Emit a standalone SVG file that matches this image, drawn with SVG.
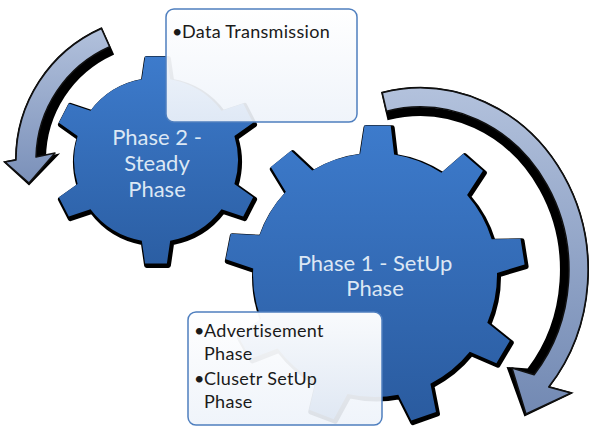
<svg xmlns="http://www.w3.org/2000/svg" width="595" height="432" viewBox="0 0 595 432">
<style>
.gtxt{font-family:Lato,"Open Sans","Liberation Sans",sans-serif;font-size:22px;fill:#dce7f4;text-anchor:middle}
.btxt{font-family:Lato,"Open Sans","Liberation Sans",sans-serif;font-size:18px;letter-spacing:0.3px;fill:#1a1a1a}
.shadow{fill:#000;stroke:#000;stroke-width:5;stroke-linejoin:round}
.box{fill:url(#boxg);stroke:#4f7fbf;stroke-width:1.5}
.arw{stroke:#111;stroke-width:1.5;stroke-linejoin:round}
</style>
<defs>
<linearGradient id="g1" gradientUnits="userSpaceOnUse" x1="0" y1="56" x2="0" y2="264">
<stop offset="0" stop-color="#3d7bcc"/><stop offset="1" stop-color="#2b5ea3"/>
</linearGradient>
<linearGradient id="g2" gradientUnits="userSpaceOnUse" x1="0" y1="125" x2="0" y2="421">
<stop offset="0" stop-color="#3d7bcc"/><stop offset="1" stop-color="#2a5b9f"/>
</linearGradient>
<linearGradient id="ag1" gradientUnits="userSpaceOnUse" x1="0" y1="28" x2="0" y2="184">
<stop offset="0" stop-color="#b2c1dc"/><stop offset="1" stop-color="#7a90b9"/>
</linearGradient>
<linearGradient id="ag2" gradientUnits="userSpaceOnUse" x1="0" y1="90" x2="0" y2="414">
<stop offset="0" stop-color="#b2c1dc"/><stop offset="1" stop-color="#7289b3"/>
</linearGradient>
<linearGradient id="boxg" x1="0" y1="0" x2="0" y2="1">
<stop offset="0" stop-color="#ffffff" stop-opacity="0.97"/><stop offset="1" stop-color="#eef3fa" stop-opacity="0.92"/>
</linearGradient>
</defs>

<g id="connectors">
<g id="arrow-left">
<path fill="#000" stroke="#000" stroke-width="2" d="M101.4,28.5 A144 144 0 0 0 16,160 L5,162 L29,184 L57,155 L45,158 A116 116 0 0 1 112.8,54 Z"/>
<path class="arw" fill="url(#ag1)" d="M101.4,28.5 A144 144 0 0 0 16,160 L5,162 L29,183 L55,153 L36,157 A124 124 0 0 1 109.6,46.7 Z"/>
</g>
<g id="arrow-right">
<path fill="#000" stroke="#000" stroke-width="2" d="M382.2,92.7 A168 182 0 0 1 548.7,387 L571,393 L525,415 L508,368 L528,369.6 A141 155 0 0 0 388.3,119 Z"/>
<path class="arw" fill="url(#ag2)" d="M382.2,92.7 A168 182 0 0 1 548.7,387 L571,393 L526,414 L512,368 L534.1,374.8 A149 163 0 0 0 386.5,111.2 Z"/>
</g>
</g>

<g id="gear-phase2">
<path class="shadow" transform="translate(1.5,2)" d="M141.8,79.3 L145.1,56.6 L166.9,56.6 L170.2,79.3 A82 82 0 0 1 221.5,110.7 L243.2,103.4 L253.1,122.7 L234.4,136.0 A82 82 0 0 1 234.4,184.0 L253.1,197.3 L243.2,216.6 L221.5,209.3 A82 82 0 0 1 170.2,240.7 L166.9,263.4 L145.1,263.4 L141.8,240.7 A82 82 0 0 1 90.5,209.3 L68.8,216.6 L58.9,197.3 L77.6,184.0 A82 82 0 0 1 77.6,136.0 L58.9,122.7 L68.8,103.4 L90.5,110.7 A82 82 0 0 1 141.8,79.3 Z"/>
<path fill="url(#g1)" d="M141.8,79.3 L145.1,56.6 L166.9,56.6 L170.2,79.3 A82 82 0 0 1 221.5,110.7 L243.2,103.4 L253.1,122.7 L234.4,136.0 A82 82 0 0 1 234.4,184.0 L253.1,197.3 L243.2,216.6 L221.5,209.3 A82 82 0 0 1 170.2,240.7 L166.9,263.4 L145.1,263.4 L141.8,240.7 A82 82 0 0 1 90.5,209.3 L68.8,216.6 L58.9,197.3 L77.6,184.0 A82 82 0 0 1 77.6,136.0 L58.9,122.7 L68.8,103.4 L90.5,110.7 A82 82 0 0 1 141.8,79.3 Z"/>
<text class="gtxt" x="157" y="145">Phase 2 -</text>
<text class="gtxt" x="157" y="171">Steady</text>
<text class="gtxt" x="157" y="197">Phase</text>
</g>

<g id="gear-phase1">
<path class="shadow" transform="translate(1.5,2)" d="M360.1,153.9 L364.5,125.4 L390.7,125.8 L394.1,154.5 A122 122 0 0 1 441.4,172.7 L463.2,153.7 L482.9,170.8 L467.1,195.0 A122 122 0 0 1 491.7,239.3 L520.5,238.7 L524.6,264.5 L497.0,272.9 A122 122 0 0 1 487.3,322.7 L509.8,340.8 L496.4,363.2 L469.8,351.8 A122 122 0 0 1 430.4,383.7 L436.0,412.0 L411.3,420.6 L398.3,394.8 A122 122 0 0 1 347.6,393.9 L333.7,419.2 L309.2,409.8 L315.9,381.7 A122 122 0 0 1 277.6,348.4 L250.7,358.9 L238.0,336.0 L261.1,318.7 A122 122 0 0 1 253.2,268.6 L225.8,259.3 L230.8,233.7 L259.6,235.3 A122 122 0 0 1 285.8,191.8 L270.8,167.1 L291.1,150.7 L312.2,170.4 A122 122 0 0 1 360.1,153.9 Z"/>
<path fill="url(#g2)" d="M360.1,153.9 L364.5,125.4 L390.7,125.8 L394.1,154.5 A122 122 0 0 1 441.4,172.7 L463.2,153.7 L482.9,170.8 L467.1,195.0 A122 122 0 0 1 491.7,239.3 L520.5,238.7 L524.6,264.5 L497.0,272.9 A122 122 0 0 1 487.3,322.7 L509.8,340.8 L496.4,363.2 L469.8,351.8 A122 122 0 0 1 430.4,383.7 L436.0,412.0 L411.3,420.6 L398.3,394.8 A122 122 0 0 1 347.6,393.9 L333.7,419.2 L309.2,409.8 L315.9,381.7 A122 122 0 0 1 277.6,348.4 L250.7,358.9 L238.0,336.0 L261.1,318.7 A122 122 0 0 1 253.2,268.6 L225.8,259.3 L230.8,233.7 L259.6,235.3 A122 122 0 0 1 285.8,191.8 L270.8,167.1 L291.1,150.7 L312.2,170.4 A122 122 0 0 1 360.1,153.9 Z"/>
<text class="gtxt" x="375" y="271">Phase 1 - SetUp</text>
<text class="gtxt" x="375" y="296">Phase</text>
</g>

<g id="box-data">
<rect class="box" x="166" y="9" width="191" height="113" rx="8"/>
<text class="btxt" x="172" y="38">•</text>
<text class="btxt" x="182" y="38">Data Transmission</text>
</g>

<g id="box-setup">
<rect class="box" x="188" y="312" width="194" height="113" rx="8"/>
<text class="btxt" x="194" y="337">•</text>
<text class="btxt" x="204" y="337">Advertisement</text>
<text class="btxt" x="204" y="360">Phase</text>
<text class="btxt" x="194" y="385">•</text>
<text class="btxt" x="204" y="385">Clusetr SetUp</text>
<text class="btxt" x="204" y="408">Phase</text>
</g>
</svg>
